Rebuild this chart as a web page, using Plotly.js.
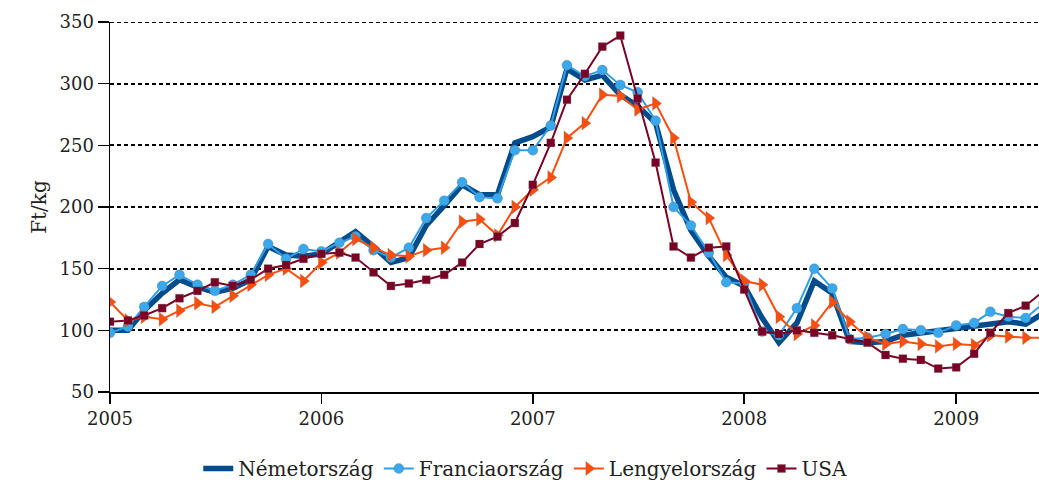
<!DOCTYPE html>
<html>
<head>
<meta charset="utf-8">
<script src="https://cdn.plot.ly/plotly-3.0.1.min.js"></script>
<style>html,body{margin:0;padding:0;background:#fff;}#chart{width:1039px;height:488px;}</style>
</head>
<body>
<div id="chart"></div>
<script>
// Monthly prices, Ft/kg, 2005-01 .. 2009-06
const months = [];
for (let y = 2005; y <= 2009; y++) {
  for (let m = 1; m <= 12; m++) {
    if (y === 2009 && m > 6) break;
    months.push(y + '-' + String(m).padStart(2, '0') + '-01');
  }
}

const nemetorszag = [100,100,116,130,141,135,131,134,141,168,161,160,
                     162,171,180,168,155,159,185,201,218,210,210,252,
                     257,265,312,303,307,291,282,268,214,181,160,143,
                     136,110,90,106,140,130,91,90,91,96,98,99,
                     101,103,105,107,105,114];
const franciaorszag = [98,103,119,136,145,137,132,137,145,170,158,166,
                       164,171,176,165,159,167,191,205,220,208,207,246,
                       246,266,315,306,311,299,293,270,200,185,163,139,
                       138,99,96,118,150,134,93,94,97,101,100,98,
                       104,106,115,111,110,122];
const lengyelorszag = [123,108,111,109,116,122,119,128,137,145,150,140,
                       155,163,174,167,161,160,165,167,188,190,177,200,
                       214,224,256,268,291,290,279,284,256,204,191,161,
                       140,137,111,97,104,123,107,94,89,91,89,87,
                       89,88,96,95,94,94];
const usa = [107,108,112,118,126,132,139,136,141,150,153,158,
             162,163,159,147,136,138,141,145,155,170,176,187,
             218,252,287,308,330,339,288,236,168,159,167,168,
             133,99,97,100,98,96,93,90,80,77,76,69,
             70,81,98,114,120,132];

const yearTicks = ['2005-01-01','2006-01-01','2007-01-01','2008-01-01','2009-01-01'];
const yearLabels = ['2005','2006','2007','2008','2009'];
const yMin = 50, yMax = 350;

const FONT = 'DejaVu Serif';
const markerEdge = {color: 'rgba(110,110,110,0.55)', width: 0.6};

const traces = [
  {x: months, y: nemetorszag, name: 'Németország', type: 'scatter', mode: 'lines',
   line: {color: '#004C8C', width: 5.5}},
  {x: months, y: franciaorszag, name: 'Franciaország', type: 'scatter', mode: 'lines+markers',
   line: {color: '#2E9FE6', width: 2}, marker: {symbol: 'circle', size: 10, color: '#3AA8EC', line: markerEdge}},
  {x: months, y: lengyelorszag, name: 'Lengyelország', type: 'scatter', mode: 'lines+markers',
   line: {color: '#FF4E0C', width: 2}, marker: {symbol: 'triangle-right', size: 12, color: '#FF4E0C', line: markerEdge}},
  {x: months, y: usa, name: 'USA', type: 'scatter', mode: 'lines+markers',
   line: {color: '#7A0025', width: 2}, marker: {symbol: 'square', size: 8, color: '#7A0025', line: markerEdge}}
];

const layout = {
  width: 1039, height: 488,
  margin: {l: 110, r: 0, t: 22, b: 94},
  paper_bgcolor: '#fff', plot_bgcolor: '#fff',
  font: {family: FONT, color: '#222', size: 18},
  showlegend: true,
  legend: {orientation: 'h', x: 0.095, xanchor: 'left', y: -0.207, yanchor: 'middle',
           font: {family: FONT, size: 20, color: '#222'}, bgcolor: 'rgba(0,0,0,0)', itemwidth: 30},
  shapes: [
    {type: 'line', layer: 'below', xref: 'paper', x0: 0, x1: 1, yref: 'y', y0: yMax, y1: yMax,
     line: {color: '#000', width: 1.8, dash: '4px,3px'}}
  ],
  xaxis: {
    type: 'date', range: ['2005-01-01', '2009-05-24'],
    tickmode: 'array', tickvals: yearTicks, ticktext: yearLabels,
    showgrid: false, zeroline: false,
    showline: true, linecolor: '#000', linewidth: 1.5,
    ticks: 'outside', ticklen: 10, tickwidth: 1.5, tickcolor: '#000',
    tickfont: {family: FONT, size: 18, color: '#222'}
  },
  yaxis: {
    range: [yMin, yMax], tickmode: 'linear', tick0: 50, dtick: 50,
    showgrid: true, gridcolor: '#000', gridwidth: 1.8, griddash: '4px,3px',
    zeroline: false,
    showline: true, linecolor: '#000', linewidth: 1.5,
    ticks: 'outside', ticklen: 11, tickwidth: 1.5, tickcolor: '#000',
    tickfont: {family: FONT, size: 18, color: '#222'},
    title: {text: 'Ft/kg', font: {family: FONT, size: 20, color: '#222'}, standoff: 7}
  }
};

Plotly.newPlot('chart', traces, layout, {displayModeBar: false, staticPlot: true});
</script>
</body>
</html>
